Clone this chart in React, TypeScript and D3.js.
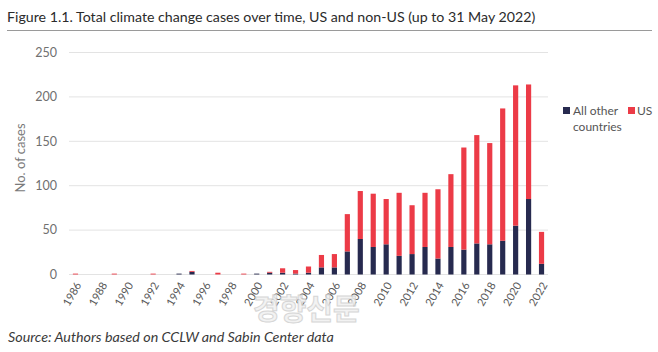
import React from "react";
import * as d3 from "d3";

const years: string[] = d3.range(1986, 2023).map(String);
const totalCases: number[] = [
  1, 0, 0, 1, 0, 0, 1, 0, 1, 4, 0, 2, 0, 1, 1, 3, 7, 5, 9, 22, 23, 68, 94, 91, 85, 92, 78, 92, 96, 113, 143, 157, 148, 187, 213, 214, 48,
];
const otherCountries: number[] = [
  0, 0, 0, 0, 0, 0, 0, 0, 1, 3, 0, 0, 0, 0, 1, 2, 2, 1, 2, 8, 8, 26, 40, 31, 34, 21, 23, 31, 18, 31, 28, 35, 34, 38, 55, 85, 12,
];
const yTicks: number[] = [0, 50, 100, 150, 200, 250];
const xTickLabels: string[] = years.filter((y) => +y % 2 === 0);

const NAVY = "#272a4f";
const RED = "#ec3b47";
const FONT = "Lato, 'Open Sans', sans-serif";

export default function App() {
  const W = 658, H = 352;
  const x = d3.scaleBand<string>().domain(years).range([69, 548]).paddingInner(0.6).paddingOuter(0.3);
  const y = d3.scaleLinear().domain([0, 250]).range([274.5, 52.5]);
  const bw = x.bandwidth();

  return (
    <svg width={W} height={H} style={{ position: "absolute", left: 0, top: 0, background: "#fff" }}>
      <text x={7} y={22} fontFamily={FONT} fontSize={14.2} fill="#2b2b2b">
        Figure 1.1. Total climate change cases over time, US and non-US (up to 31 May 2022)
      </text>
      <line x1={7} x2={652} y1={30.5} y2={30.5} stroke="#9a9a9a" strokeWidth={1} />

      {yTicks.map((t) => (
        <g key={t}>
          <line x1={69} x2={548} y1={y(t)} y2={y(t)} stroke="#e3e3e3" strokeWidth={1} />
          <text x={57} y={y(t)} dy="0.35em" textAnchor="end" fontFamily={FONT} fontSize={12.5} fill="#707070">
            {t}
          </text>
        </g>
      ))}
      <text
        transform={`translate(25,158) rotate(-90)`}
        textAnchor="middle"
        fontFamily={FONT}
        fontSize={13}
        fill="#7a7a7a"
      >
        No. of cases
      </text>

      {years.map((yr, i) => (
        <g key={yr}>
          <rect x={x(yr)!} width={bw} y={y(otherCountries[i])} height={y(0) - y(otherCountries[i])} fill={NAVY} />
          <rect x={x(yr)!} width={bw} y={y(totalCases[i])} height={y(otherCountries[i]) - y(totalCases[i])} fill={RED} />
        </g>
      ))}

      {xTickLabels.map((yr) => {
        const cx = x(yr)! + bw / 2 + 3;
        return (
          <text
            key={yr}
            transform={`translate(${cx},${283}) rotate(-60)`}
            textAnchor="end"
            dy="0.35em"
            fontFamily={FONT}
            fontSize={11}
            fill="#5a5a5a"
          >
            {yr}
          </text>
        );
      })}

      <g fontFamily={FONT} fontSize={12} fill="#555">
        <rect x={563} y={107} width={7} height={7} fill={NAVY} />
        <text x={573} y={115}>All other</text>
        <text x={573} y={131}>countries</text>
        <rect x={628} y={107} width={7} height={7} fill={RED} />
        <text x={637} y={115}>US</text>
      </g>

      <text x={253} y={320} fontFamily="'Noto Sans CJK KR', sans-serif" fontWeight={700} fontSize={29} fill="#f0f0f0" stroke="#cfcfcf" strokeWidth={1} opacity={0.85}>
        경향신문
      </text>

      <text x={8} y={342} fontFamily={FONT} fontStyle="italic" fontSize={14.3} fill="#3a3a3a">
        Source: Authors based on CCLW and Sabin Center data
      </text>
    </svg>
  );
}
